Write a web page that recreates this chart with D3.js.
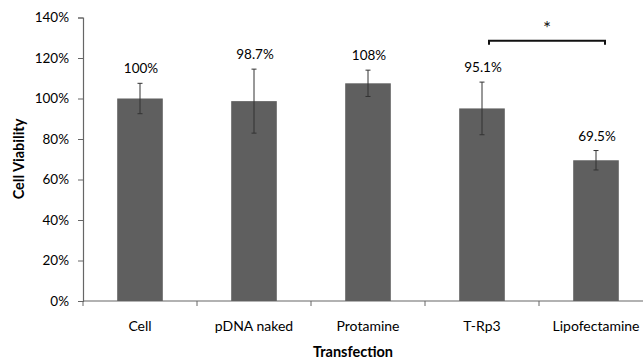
<!DOCTYPE html>
<html><head><meta charset="utf-8">
<script src="https://cdn.jsdelivr.net/npm/d3@7"></script>
<style>body{margin:0;background:#fff}svg{display:block}text{font-family:Lato,"Open Sans",sans-serif}</style>
</head><body><svg id="c" width="643" height="361"></svg>
<script>
const categories = ["Cell", "pDNA naked", "Protamine", "T-Rp3", "Lipofectamine"];
const values = [100, 98.7, 107.5, 95.1, 69.5];
const errors = [7.5, 15.8, 6.5, 13, 4.8];
const labels = ["100%", "98.7%", "108%", "95.1%", "69.5%"];
const yTicks = [0, 20, 40, 60, 80, 100, 120, 140];
const sigPair = ["T-Rp3", "Lipofectamine"];

const svg = d3.select("#c");
const x = d3.scaleBand().domain(categories).range([83, 653]).paddingInner(0).paddingOuter(0);
const y = d3.scaleLinear().domain([0, 140]).range([301, 17.5]);
const bw = x.bandwidth() * 0.4;

// y axis
const ya = svg.append("g").attr("transform", "translate(83,0)")
  .call(d3.axisLeft(y).tickValues(yTicks).tickSize(5).tickPadding(9).tickFormat(d => d + "%"));
ya.select(".domain").attr("stroke", "#666").attr("stroke-width", 1.2);
ya.selectAll(".tick line").attr("stroke", "#666");
ya.selectAll("text").attr("font-size", 13.5).attr("fill", "#000").attr("font-family", "Lato, 'Open Sans', sans-serif");

// x axis with boundary ticks
const xa = svg.append("g").attr("transform", "translate(0,301)");
xa.append("line").attr("x1", 83).attr("x2", 653).attr("stroke", "#666").attr("stroke-width", 1.2);
categories.forEach(c => {
  xa.append("line").attr("x1", x(c)).attr("x2", x(c)).attr("y1", 0).attr("y2", 5).attr("stroke", "#666");
});
xa.selectAll("text.cat").data(categories).enter().append("text").attr("class", "cat")
  .attr("x", d => x(d) + x.bandwidth() / 2).attr("y", 30)
  .attr("text-anchor", "middle").attr("font-size", 14).attr("fill", "#000").text(d => d);

// bars
svg.selectAll("rect.bar").data(categories).enter().append("rect").attr("class", "bar")
  .attr("x", d => x(d) + x.bandwidth() / 2 - bw / 2)
  .attr("width", bw)
  .attr("y", (d, i) => y(values[i]))
  .attr("height", (d, i) => y(0) - y(values[i]))
  .attr("fill", "#5f5f5f");

// error bars
categories.forEach((c, i) => {
  const cx = x(c) + x.bandwidth() / 2;
  const t = y(values[i] + errors[i]), b = y(values[i] - errors[i]);
  const g = svg.append("g").attr("stroke", "#333").attr("stroke-width", 1);
  g.append("line").attr("x1", cx).attr("x2", cx).attr("y1", t).attr("y2", b);
  g.append("line").attr("x1", cx - 2.5).attr("x2", cx + 2.5).attr("y1", t).attr("y2", t);
  g.append("line").attr("x1", cx - 2.5).attr("x2", cx + 2.5).attr("y1", b).attr("y2", b);
  svg.append("text").attr("x", cx + 1).attr("y", t - 10)
    .attr("text-anchor", "middle").attr("font-size", 13.5).attr("fill", "#000").text(labels[i]);
});

// significance bracket
const x1 = x(sigPair[0]) + x.bandwidth() / 2 + 7;
const x2 = x(sigPair[1]) + x.bandwidth() / 2 + 9;
const by = y(128.5);
svg.append("path").attr("d", `M${x1},${by + 4}V${by}H${x2}V${by + 4}`)
  .attr("fill", "none").attr("stroke", "#111").attr("stroke-width", 2);
svg.append("text").attr("x", (x1 + x2) / 2).attr("y", by - 6).attr("text-anchor", "middle")
  .attr("font-size", 19).attr("fill", "#111").text("*");

// axis titles
svg.append("text").attr("x", 353).attr("y", 357).attr("text-anchor", "middle")
  .attr("font-size", 14.5).attr("font-weight", "bold").attr("fill", "#000").text("Transfection");
svg.append("text").attr("transform", "translate(24,159) rotate(-90)").attr("text-anchor", "middle")
  .attr("font-size", 14.5).attr("font-weight", "bold").attr("fill", "#000").text("Cell Viability");
</script></body></html>
